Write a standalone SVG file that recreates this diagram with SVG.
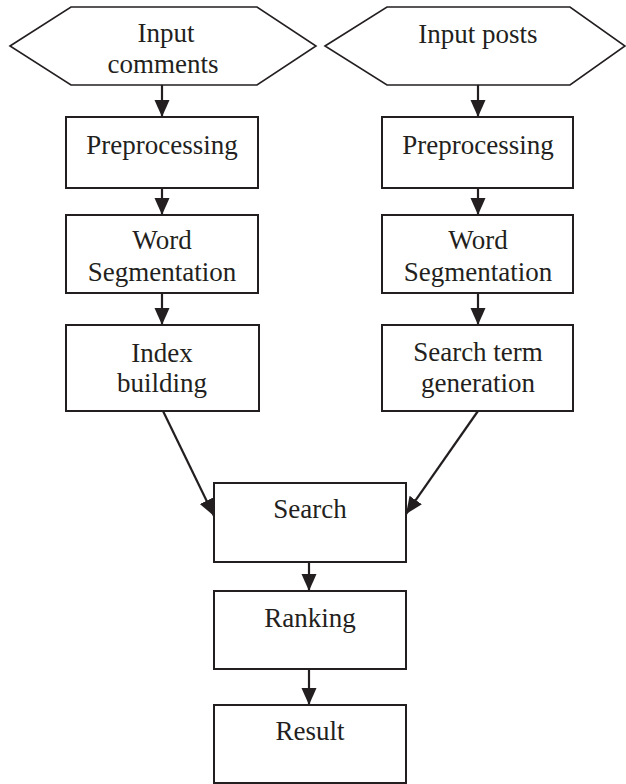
<svg xmlns="http://www.w3.org/2000/svg" width="626" height="784" viewBox="0 0 626 784">
<style>
.box{fill:#fff;stroke:#231f20;stroke-width:2}
.hex{fill:#fff;stroke:#231f20;stroke-width:1.6}
.t{font-family:"Liberation Serif","Times New Roman",serif;font-size:27px;fill:#231f20;text-anchor:middle}
.c{stroke:#231f20;stroke-width:2.2;fill:none;marker-end:url(#ah)}
</style>
<defs>
<marker id="ah" markerUnits="userSpaceOnUse" markerWidth="18" markerHeight="16" refX="17" refY="7.5" orient="auto">
<path d="M0,0 L17,7.5 L0,15 Z" fill="#231f20"/>
</marker>
</defs>
<rect width="626" height="784" fill="#fff"/>
<g id="connectors">
<line class="c" x1="162" y1="85" x2="162" y2="117"/>
<line class="c" x1="162" y1="188" x2="162" y2="215"/>
<line class="c" x1="162" y1="293" x2="162" y2="325"/>
<line class="c" x1="478" y1="85" x2="478" y2="117"/>
<line class="c" x1="478" y1="188" x2="478" y2="215"/>
<line class="c" x1="478" y1="293" x2="478" y2="325"/>
<line class="c" x1="163" y1="411" x2="214" y2="516"/>
<line class="c" x1="478" y1="411" x2="406" y2="514"/>
<line class="c" x1="309" y1="562" x2="309" y2="591"/>
<line class="c" x1="309" y1="669" x2="309" y2="705"/>
</g>
<g id="input-comments">
<polygon class="hex" points="10,46 71,7 257,7 316,46 257,85 71,85"/>
<text class="t" x="166" y="42">Input</text>
<text class="t" x="163" y="73">comments</text>
</g>
<g id="input-posts">
<polygon class="hex" points="325,46 387,7 570,7 625,46 570,85 387,85"/>
<text class="t" x="478" y="43">Input posts</text>
</g>
<g id="pre-left">
<rect class="box" x="66" y="117" width="192" height="71"/>
<text class="t" x="162" y="154">Preprocessing</text>
</g>
<g id="pre-right">
<rect class="box" x="382" y="117" width="191" height="71"/>
<text class="t" x="478" y="154">Preprocessing</text>
</g>
<g id="ws-left">
<rect class="box" x="66" y="215" width="192" height="78"/>
<text class="t" x="162" y="249">Word</text>
<text class="t" x="162" y="281">Segmentation</text>
</g>
<g id="ws-right">
<rect class="box" x="382" y="215" width="191" height="78"/>
<text class="t" x="478" y="249">Word</text>
<text class="t" x="478" y="281">Segmentation</text>
</g>
<g id="index-building">
<rect class="box" x="66" y="325" width="193" height="86"/>
<text class="t" x="162" y="362">Index</text>
<text class="t" x="162" y="392">building</text>
</g>
<g id="search-term-generation">
<rect class="box" x="382" y="325" width="191" height="86"/>
<text class="t" x="478" y="361">Search term</text>
<text class="t" x="478" y="392">generation</text>
</g>
<g id="search">
<rect class="box" x="214" y="483" width="192" height="79"/>
<text class="t" x="310" y="518">Search</text>
</g>
<g id="ranking">
<rect class="box" x="214" y="591" width="192" height="78"/>
<text class="t" x="310" y="627">Ranking</text>
</g>
<g id="result">
<rect class="box" x="214" y="705" width="192" height="78"/>
<text class="t" x="310" y="740">Result</text>
</g>
</svg>
